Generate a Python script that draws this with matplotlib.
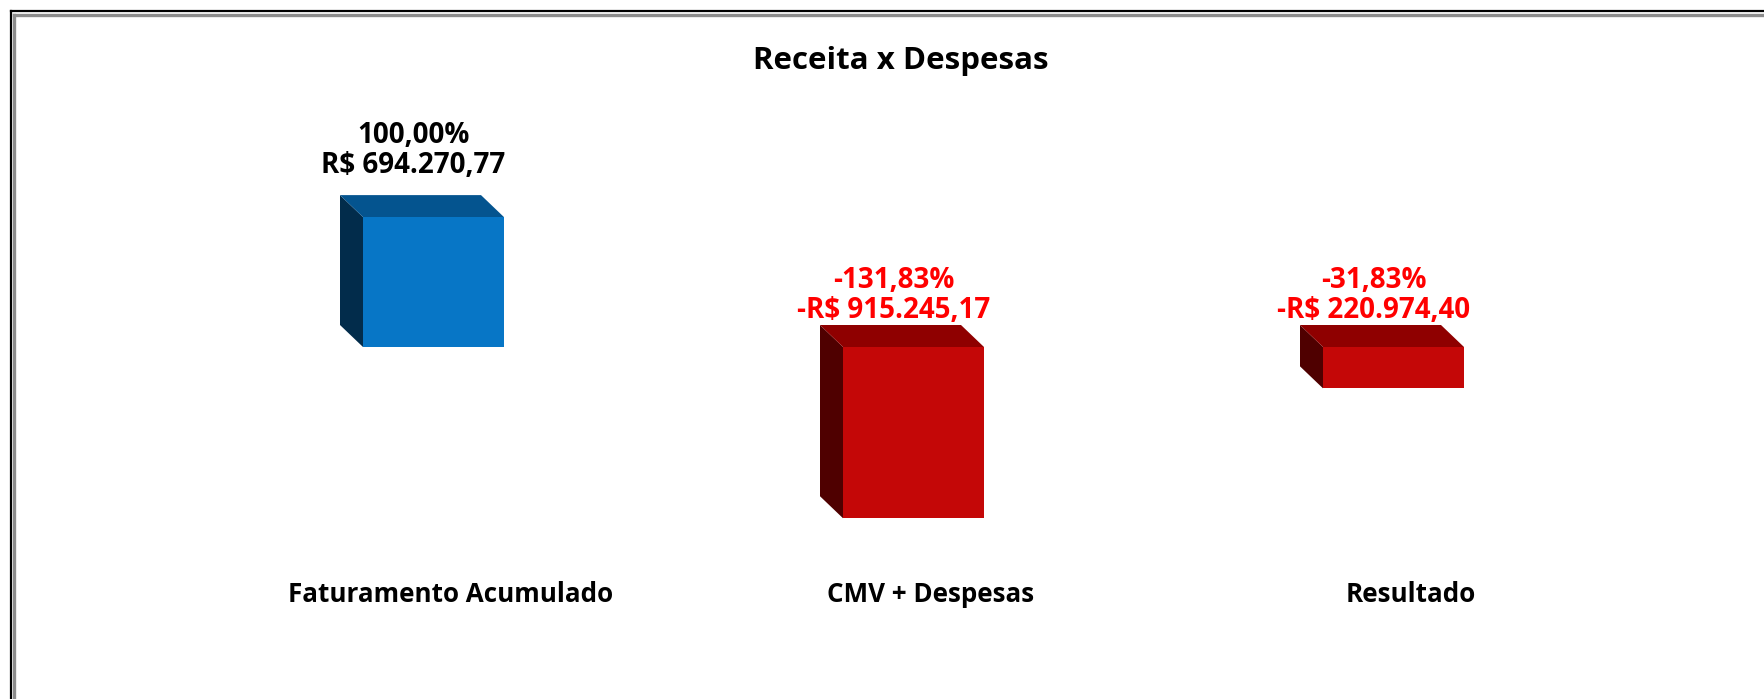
import matplotlib
matplotlib.use("Agg")
import matplotlib.pyplot as plt
from matplotlib.patches import Polygon
from matplotlib.lines import Line2D

categories = ["Faturamento Acumulado", "CMV + Despesas", "Resultado"]
values = [694270.77, -915245.17, -220974.40]
percents = [100.00, -131.83, -31.83]


def brl(v):
    s = f"{abs(v):,.2f}".replace(",", "X").replace(".", ",").replace("X", ".")
    return ("-" if v < 0 else "") + "R$ " + s


def pct(p):
    return f"{p:.2f}".replace(".", ",") + "%"


W, H, DPI = 1764, 699, 100
fig = plt.figure(figsize=(W / DPI, H / DPI), dpi=DPI)
fig.patch.set_facecolor("white")
plt.rcParams["font.family"] = ["Open Sans", "DejaVu Sans"]

ax = fig.add_axes([0, 0, 1, 1])
ax.axis("off")

# pixel layout of the plot area
x_px = 480.0        # px per category
x0_px = 433.5       # px of first category
y_px = 5345.0       # value per px
zero_px = 347.0     # zero line from the top
ax.set_xlim(-x0_px / x_px, (W - x0_px) / x_px)
ax.set_ylim(-(H - zero_px) * y_px, zero_px * y_px)

bar_w = 141 / x_px
dx = -23 / x_px
dy = 22 * y_px

pos_colors = ("#0776c6", "#04548f", "#022c4b")
neg_colors = ("#c40707", "#8f0000", "#4f0000")

xs = list(range(len(categories)))
for x, v, p in zip(xs, values, percents):
    front, top_c, side_c = pos_colors if v >= 0 else neg_colors
    l, r = x - bar_w / 2, x + bar_w / 2
    hi, lo = max(v, 0), min(v, 0)
    ax.add_patch(Polygon([(l, lo), (l, hi), (l + dx, hi + dy), (l + dx, lo + dy)],
                         closed=True, facecolor=side_c, edgecolor="none"))
    ax.add_patch(Polygon([(l, hi), (r, hi), (r + dx, hi + dy), (l + dx, hi + dy)],
                         closed=True, facecolor=top_c, edgecolor="none"))
    ax.bar(x, v, width=bar_w, color=front, edgecolor="none")

    col = "black" if v >= 0 else "#ff0000"
    off = 15 if v >= 0 else 0
    ax.annotate(pct(p) + "\n" + brl(v), (x, hi + dy), xytext=(-20, off),
                textcoords="offset pixels", ha="center", va="bottom",
                fontsize=20, fontweight="bold", color=col, linespacing=1.05)

    ax.annotate(categories[x], (x, 0), xytext=(17, -(595 - zero_px)),
                textcoords="offset pixels", ha="center", va="center",
                fontsize=18.7, fontweight="bold", color="black")

fig.text(901 / W, 1 - 61 / H, "Receita x Despesas", ha="center", va="center",
         fontsize=22.5, fontweight="bold", color="black")

# double frame at top and left
for pos, c, lw in [(11, "black", 1.6), (14.5, "#8c8c8c", 2.4)]:
    fig.add_artist(Line2D([pos / W, pos / W], [0, 1 - pos / H], color=c, lw=lw,
                          transform=fig.transFigure))
    fig.add_artist(Line2D([pos / W, 1], [1 - pos / H, 1 - pos / H], color=c, lw=lw,
                          transform=fig.transFigure))

fig.savefig("out.png", dpi=DPI)
